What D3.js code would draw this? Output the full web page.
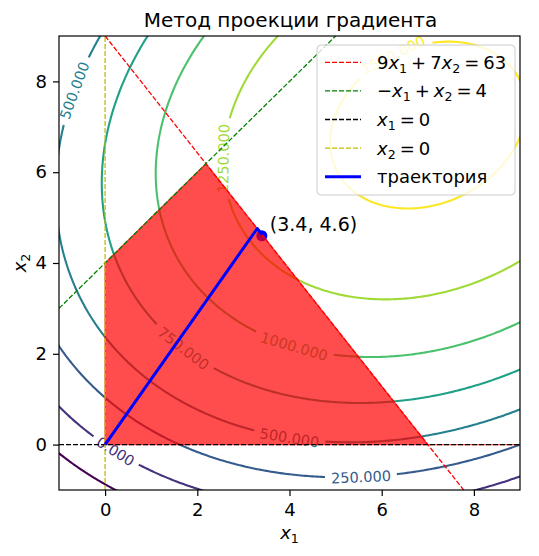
<!DOCTYPE html>
<html><head><meta charset="utf-8">
<script src="https://cdn.jsdelivr.net/npm/d3@7"></script>
<style>body{margin:0;background:#fff} text{font-family:"DejaVu Sans",sans-serif}</style>
</head><body><svg id="c" width="539" height="556"></svg>
<script>
// ---------------- data ----------------
const xTicks = [0, 2, 4, 6, 8];
const yTicks = [0, 2, 4, 6, 8];
const xDomain = [-1, 9];
const yDomain = [-1, 9];
const levels = [-250, 0, 250, 500, 750, 1000, 1250, 1500];
// objective f = a*x1 + b*x2 + c*x1^2 + d*x2^2 + e*x1*x2
const objCoef = [182.6, 265.6, -17.2, -23.0, 8.3];
// constraint lines a*x1 + b*x2 = c
const lineA = [9, -1, 0, 1];
const lineB = [7, 1, 1, 0];
const lineC = [63, 4, 0, 0];
// feasible region (vertices)
const feasX = [0, 0, 2.1875, 7, 9, 0];
const feasY = [0, 4, 6.1875, 0, 0, 0];
// trajectory of the method
const trajX = [0, 3.30, 3.41];
const trajY = [0, 4.76, 4.62];
const optPoint = [3.4, 4.6];
const optLabel = "(3.4, 4.6)";
const titleText = "Метод проекции градиента";
// legend labels: [text, kind]  i = italic, s = subscript, o = binary operator (medium spaces)
const legendParts = [
  [["9"],["x","i"],["1","s"],["+","o"],["7"],["x","i"],["2","s"],["=","o"],["63"]],
  [["\u2212"],["x","i"],["1","s"],["+","o"],["x","i"],["2","s"],["=","o"],["4"]],
  [["x","i"],["1","s"],["=","o"],["0"]],
  [["x","i"],["2","s"],["=","o"],["0"]],
  [["траектория"]]
];

// ---------------- layout / style ----------------
const W = 539, H = 556;
const M = {l: 59, r: 520, t: 36, b: 490};
const lineColors = ["#ff0000", "#008000", "#000000", "#bfbf00"];
// where clabel put labels (approximate hints, projected onto the contour)
const labelHints = [
  {level: 0, x: 0.25, y: -0.09},
  {level: 250, x: 5.53, y: -0.71},
  {level: 500, x: 4.0, y: 0.2},
  {level: 500, x: -0.67, y: 7.78},
  {level: 750, x: 1.72, y: 2.17},
  {level: 1000, x: 4.1, y: 2.2},
  {level: 1250, x: 2.58, y: 6.32},
  {level: 1500, x: 6.3, y: 8.5}
];

const svg = d3.select("#c");
const sx = d3.scaleLinear().domain(xDomain).range([M.l, M.r]);
const sy = d3.scaleLinear().domain(yDomain).range([M.b, M.t]);

svg.append("rect").attr("width", W).attr("height", H).attr("fill", "#fff");
const defs = svg.append("defs");
defs.append("clipPath").attr("id", "plotclip").append("rect")
  .attr("x", M.l).attr("y", M.t).attr("width", M.r - M.l).attr("height", M.b - M.t);

// ---------------- contours ----------------
const g0 = -1.5, step = 0.05, n = 221;
const f = (x, y) => objCoef[0]*x + objCoef[1]*y + objCoef[2]*x*x + objCoef[3]*y*y + objCoef[4]*x*y;
const vals = new Array(n*n);
for (let j = 0; j < n; j++) for (let i = 0; i < n; i++) vals[j*n + i] = f(g0 + i*step, g0 + j*step);
const cs = d3.contours().size([n, n]).thresholds(levels)(vals);
const gpx = gx => sx(g0 + (gx - 0.5)*step);
const gpy = gy => sy(g0 + (gy - 0.5)*step);
const cmap = v => d3.interpolateViridis((v - levels[0]) / (levels[levels.length-1] - levels[0]));
cs.forEach(c => {
  c.rings = [];
  c.coordinates.forEach(poly => poly.forEach(ring => c.rings.push(ring.map(p => [gpx(p[0]), gpy(p[1])]))));
});

const mask = defs.append("mask").attr("id", "lblmask").attr("maskUnits", "userSpaceOnUse")
  .attr("x", 0).attr("y", 0).attr("width", W).attr("height", H);
mask.append("rect").attr("width", W).attr("height", H).attr("fill", "#fff");

const gC = svg.append("g").attr("clip-path", "url(#plotclip)");
const gLines = gC.append("g").attr("mask", "url(#lblmask)");
cs.forEach(c => {
  const d = c.rings.map(r => "M" + r.map(p => p[0].toFixed(2) + "," + p[1].toFixed(2)).join("L") + "Z").join("");
  gLines.append("path").attr("d", d).attr("fill", "none").attr("stroke", cmap(c.value))
    .attr("stroke-width", 2.1).attr("stroke-linejoin", "round");
});

const fmt = d3.format(".3f");
const gLbl = gC.append("g");
const inside = p => p[0] > M.l && p[0] < M.r && p[1] > M.t && p[1] < M.b;
labelHints.forEach(h => {
  const c = cs.find(c => c.value === h.level);
  const tx = sx(h.x), ty = sy(h.y);
  let best = null, bd = Infinity;
  c.rings.forEach(r => r.forEach((p, k) => {
    if (!inside(p)) return;
    const d = (p[0]-tx)**2 + (p[1]-ty)**2;
    if (d < bd) { bd = d; best = {r, k}; }
  }));
  const r = best.r, L = r.length - 1, k = best.k;
  const pa = r[(k - 4 + L) % L], pb = r[(k + 4) % L], p = r[k];
  let ang = Math.atan2(pb[1] - pa[1], pb[0] - pa[0]) * 180 / Math.PI;
  if (ang > 90) ang -= 180;
  if (ang <= -90) ang += 180;
  const t = gLbl.append("text").attr("transform", `translate(${p[0]},${p[1]}) rotate(${ang})`)
    .attr("text-anchor", "middle").attr("dy", "0.36em").attr("font-size", 14.5)
    .attr("fill", cmap(h.level)).text(fmt(h.level));
  const w = t.node().getComputedTextLength();
  mask.append("rect").attr("x", -w/2 - 6).attr("y", -8).attr("width", w + 12).attr("height", 16)
    .attr("transform", `translate(${p[0]},${p[1]}) rotate(${ang})`).attr("fill", "#000");
});

// ---------------- marks ----------------
const gP = svg.append("g").attr("clip-path", "url(#plotclip)");
gP.append("circle").attr("cx", sx(optPoint[0])).attr("cy", sy(optPoint[1])).attr("r", 5.5).attr("fill", "#0000ff");
gP.append("path")
  .attr("d", d3.line().x((d, i) => sx(feasX[i])).y((d, i) => sy(feasY[i]))(feasX) + "Z")
  .attr("fill", "#ff0000").attr("fill-opacity", 0.7)
  .attr("stroke", "#ff0000").attr("stroke-opacity", 0.7).attr("stroke-width", 1.3);

lineA.forEach((a, i) => {
  const b = lineB[i], c = lineC[i];
  let p1, p2;
  if (b !== 0) {
    // start where the line enters the plot from the top or the left
    let xs = xDomain[0], ys = (c - a*xs) / b;
    if (ys > yDomain[1]) { ys = yDomain[1]; xs = (c - b*ys) / a; }
    p1 = [xs, ys]; p2 = [xDomain[1], (c - a*xDomain[1]) / b];
  } else { p1 = [c / a, yDomain[0]]; p2 = [c / a, yDomain[1]]; }
  gP.append("line").attr("x1", sx(p1[0])).attr("y1", sy(p1[1])).attr("x2", sx(p2[0])).attr("y2", sy(p2[1]))
    .attr("stroke", lineColors[i]).attr("stroke-width", 1.3).attr("stroke-dasharray", "5,2");
});

gP.append("path")
  .attr("d", d3.line().x((d, i) => sx(trajX[i])).y((d, i) => sy(trajY[i]))(trajX))
  .attr("fill", "none").attr("stroke", "#0000ff").attr("stroke-width", 3).attr("stroke-linejoin", "round");

svg.append("text").attr("x", sx(optPoint[0]) + 8).attr("y", sy(optPoint[1]) - 5)
  .attr("font-size", 19).attr("fill", "#000").text(optLabel);

// ---------------- axes ----------------
const ax = svg.append("g").attr("transform", `translate(0,${M.b})`)
  .call(d3.axisBottom(sx).tickValues(xTicks).tickSize(6).tickPadding(7).tickFormat(d3.format("d")));
const ay = svg.append("g").attr("transform", `translate(${M.l},0)`)
  .call(d3.axisLeft(sy).tickValues(yTicks).tickSize(6).tickPadding(6).tickFormat(d3.format("d")));
[ax, ay].forEach(a => {
  a.select(".domain").remove();
  a.selectAll("line").attr("stroke", "#000").attr("stroke-width", 1.2);
  a.selectAll("text").attr("font-size", 18).attr("fill", "#000").attr("font-family", "DejaVu Sans");
});
svg.append("rect").attr("x", M.l).attr("y", M.t).attr("width", M.r - M.l).attr("height", M.b - M.t)
  .attr("fill", "none").attr("stroke", "#000").attr("stroke-width", 1.2);

function mathText(sel, parts, fs) {
  let shift = 0, pendingDx = 0;
  parts.forEach(p => {
    const isSub = p[1] === "s", isOp = p[1] === "o";
    const want = isSub ? fs*0.22 : 0;
    const ts = sel.append("tspan").attr("dy", want - shift).text(p[0]);
    shift = want;
    let dx = pendingDx + (isOp ? fs*0.22 : 0);
    if (dx) ts.attr("dx", dx);
    pendingDx = isOp ? fs*0.22 : 0;
    if (isSub) ts.attr("font-size", fs*0.7);
    if (p[1] === "i") ts.attr("font-style", "italic");
  });
}

const xl = svg.append("text").attr("x", (M.l + M.r)/2).attr("y", 539).attr("text-anchor", "middle").attr("font-size", 18);
mathText(xl, [["x","i"],["1","s"]], 18);
const yl = svg.append("text").attr("transform", `translate(26,${(M.t + M.b)/2}) rotate(-90)`).attr("text-anchor", "middle").attr("font-size", 18);
mathText(yl, [["x","i"],["2","s"]], 18);

svg.append("text").attr("x", (M.l + M.r)/2 + 1).attr("y", 27).attr("text-anchor", "middle")
  .attr("font-size", 20).attr("fill", "#000").text(titleText);

// ---------------- legend ----------------
const lg = svg.append("g");
lg.append("rect").attr("x", 317).attr("y", 45).attr("width", 198).attr("height", 150).attr("rx", 4)
  .attr("fill", "#fff").attr("fill-opacity", 0.8).attr("stroke", "#cccccc").attr("stroke-width", 1);
legendParts.forEach((parts, i) => {
  const y = 62.3 + i*28.6;
  const col = i < 4 ? lineColors[i] : "#0000ff";
  lg.append("line").attr("x1", 325).attr("x2", 361).attr("y1", y).attr("y2", y)
    .attr("stroke", col).attr("stroke-width", i < 4 ? 1.3 : 3)
    .attr("stroke-dasharray", i < 4 ? "5,2" : null);
  const t = lg.append("text").attr("x", 377).attr("y", y + 6.5).attr("font-size", 18).attr("fill", "#000");
  mathText(t, parts, 18);
});
</script></body></html>
